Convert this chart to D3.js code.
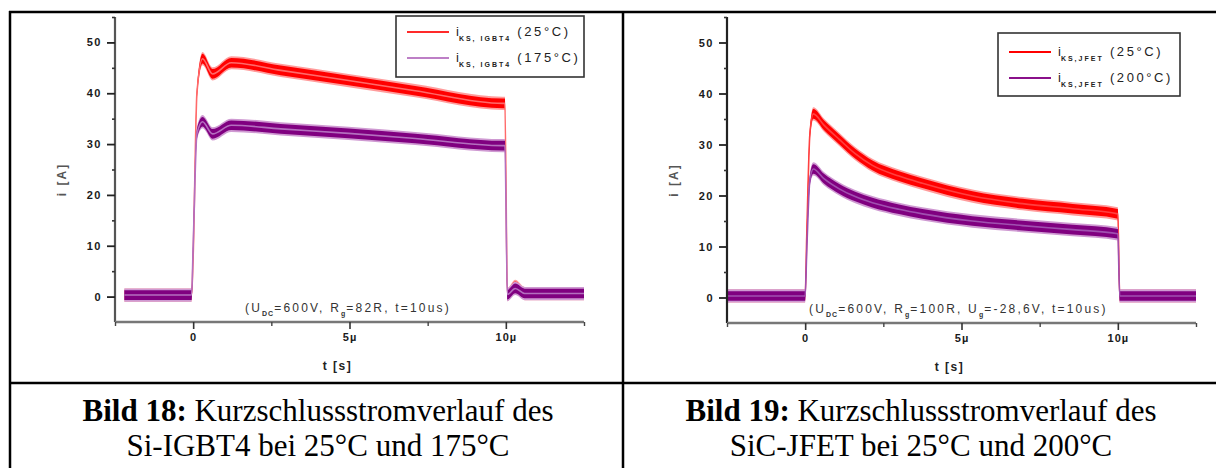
<!DOCTYPE html>
<html>
<head>
<meta charset="utf-8">
<script src="https://cdn.jsdelivr.net/npm/d3@7"></script>
<style>
  body { margin: 0; background: #fff; }
  svg { display: block; font-family: "Liberation Sans", Arial, sans-serif; }
</style>
</head>
<body>
<script>
// Bild 18: Si-IGBT4, current in A over time in µs
const igbtTime = [-2.2, -0.05, 0.0, 0.12, 0.3, 0.62, 1.22, 2.8, 4.97, 7.1, 9.9, 9.97, 10.05, 10.3, 10.6, 12.5];
const igbt25   = [0.3, 0.3, 8, 40, 46.8, 43.8, 46, 44.5, 42.5, 40.5, 38, 38, 0.4, 2.0, 0.6, 0.6];
const igbt175  = [0.3, 0.3, 10, 32, 34.4, 32.0, 33.7, 33, 32.1, 31.1, 29.7, 29.7, 0.4, 1.6, 0.6, 0.6];

// Bild 19: SiC-JFET
const jfetTime = [-2.5, 0.0, 0.05, 0.15, 0.26, 0.6, 1.09, 1.6, 2.15, 3.0, 3.75, 5.35, 6.95, 8.56, 10.0, 10.06, 12.5];
const jfet25   = [0.3, 0.3, 12, 32, 36, 33.8, 31, 28.2, 25.9, 23.8, 22.4, 19.9, 18.4, 17.4, 16.4, 0.3, 0.3];
const jfet200  = [0.3, 0.3, 9, 23, 25.2, 23.3, 21.3, 19.8, 18.6, 17.3, 16.4, 15, 14.1, 13.3, 12.5, 0.3, 0.3];

const yTicks = [0, 10, 20, 30, 40, 50];
const yMinor = [5, 15, 25, 35, 45, 55];
const xTicks = [0, 5, 10];
const xTickLabels = ["0", "5µ", "10µ"];
const xMinor = [-2.5, 2.5, 7.5, 12.5];

const captions = [
    { bold: "Bild 18:", rest: " Kurzschlussstromverlauf des", line2: "Si-IGBT4 bei 25°C und 175°C" },
    { bold: "Bild 19:", rest: " Kurzschlussstromverlauf des", line2: "SiC-JFET bei 25°C und 200°C" }
];

const W = 1216, H = 468;
const svg = d3.select("body").append("svg")
    .attr("width", W)
    .attr("height", H);

function drawPanel(opt) {
    const x = d3.scaleLinear().domain([-2.5, 12.5]).range([opt.left, opt.right]);
    const y = d3.scaleLinear().domain([-5, 55]).range([opt.bottom, opt.top]);
    const g = svg.append("g");

    // traces: light halo band, core band, thin line for the steep edges
    opt.series.forEach(s => {
        const area = hw => d3.area()
            .x((d, i) => x(opt.time[i]))
            .y0(d => y(d - hw))
            .y1(d => y(d + hw))
            .curve(d3.curveMonotoneX);
        g.append("path").attr("d", area(1.3)(s.values)).attr("fill", s.halo);
        g.append("path").attr("d", area(0.95)(s.values)).attr("fill", s.color);
        g.append("path")
            .attr("d", d3.line().x((d, i) => x(opt.time[i])).y(d => y(d)).curve(d3.curveMonotoneX)(s.values))
            .attr("fill", "none")
            .attr("stroke", s.edge)
            .attr("stroke-width", 1.6);
    });

    // y axis
    const yAxis = g.append("g").attr("transform", `translate(${opt.left},0)`)
        .call(d3.axisLeft(y).tickValues(yTicks).tickSize(8).tickFormat(d3.format("d")));
    yAxis.select(".domain").attr("stroke", opt.axisColor).attr("stroke-width", 2.2)
        .attr("d", `M0,${opt.bottom}V${opt.top}`);
    yAxis.selectAll(".tick line").attr("stroke", "#222").attr("stroke-width", 1.8);
    yAxis.selectAll(".tick text")
        .attr("x", -13)
        .style("font-size", "11px").style("font-weight", "bold")
        .style("letter-spacing", "1.5px").attr("fill", "#1a1a1a");
    g.append("g").attr("transform", `translate(${opt.left},0)`)
        .call(d3.axisLeft(y).tickValues(yMinor).tickSize(3).tickFormat(""))
        .call(a => a.select(".domain").remove())
        .selectAll("line").attr("stroke", "#333").attr("stroke-width", 1.6);

    // x axis
    const xAxis = g.append("g").attr("transform", `translate(0,${opt.bottom})`)
        .call(d3.axisBottom(x).tickValues(xTicks).tickSize(7).tickFormat((d, i) => xTickLabels[i]));
    xAxis.select(".domain").attr("stroke", "#777").attr("stroke-width", 2.6)
        .attr("d", `M${opt.left},0H${opt.right}`);
    xAxis.selectAll(".tick line").attr("stroke", "#333").attr("stroke-width", 1.6);
    xAxis.selectAll(".tick text")
        .attr("y", 11)
        .style("font-size", "11px").style("font-weight", "bold")
        .style("letter-spacing", "1px").attr("fill", "#1a1a1a");
    g.append("g").attr("transform", `translate(0,${opt.bottom})`)
        .call(d3.axisBottom(x).tickValues(xMinor).tickSize(4).tickFormat(""))
        .call(a => a.select(".domain").remove())
        .selectAll("line").attr("stroke", "#444").attr("stroke-width", 1.4);

    // axis titles
    g.append("text")
        .attr("x", (opt.left + opt.right) / 2 - 12).attr("y", opt.bottom + 48)
        .attr("text-anchor", "middle")
        .style("font-size", "12px").style("font-weight", "bold").style("letter-spacing", "1.5px")
        .attr("fill", "#222")
        .text("t [s]");
    g.append("text")
        .attr("transform", `translate(${opt.left - 49},${(opt.top + opt.bottom) / 2 + 10}) rotate(-90)`)
        .attr("text-anchor", "middle")
        .style("font-size", "12px").style("font-weight", "bold").style("letter-spacing", "2px")
        .attr("fill", "#555")
        .text("i [A]");

    // legend
    const lg = g.append("g").attr("transform", `translate(${opt.legend[0]},${opt.legend[1]})`);
    lg.append("rect")
        .attr("width", opt.legend[2]).attr("height", opt.legend[3])
        .attr("fill", "#fff").attr("stroke", "#333").attr("stroke-width", 1.6);
    opt.series.forEach((s, i) => {
        const ly = opt.legendRow0 + i * opt.legendGap;
        lg.append("line")
            .attr("x1", 11).attr("x2", 53).attr("y1", ly).attr("y2", ly)
            .attr("stroke", s.legendColor).attr("stroke-width", 2);
        const t = lg.append("text")
            .attr("x", 60).attr("y", ly + 4)
            .style("font-size", "13px").attr("fill", "#222");
        t.append("tspan").text("i");
        t.append("tspan").attr("dy", 5)
            .style("font-size", "7px").style("font-weight", "bold").style("letter-spacing", "2px")
            .text(opt.legendSub);
        t.append("tspan").attr("dy", -5)
            .style("letter-spacing", "2.6px")
            .text(" " + s.label);
    });

    // test condition note, subscripts lowered then the next run raised back
    const note = g.append("text")
        .attr("x", opt.noteX).attr("y", opt.bottom - 10)
        .style("font-size", "12px").style("letter-spacing", "2.2px").attr("fill", "#333");
    let shift = 0;
    opt.note.forEach(part => {
        if (part.sub) {
            note.append("tspan").attr("dy", 4).style("font-size", "7px").style("font-weight", "bold")
                .style("letter-spacing", "1px").text(part.sub);
            shift = -4;
        } else {
            note.append("tspan").attr("dy", shift).text(part.t);
            shift = 0;
        }
    });
}

drawPanel({
    left: 115, right: 584, top: 17, bottom: 322,
    axisColor: "#555",
    time: igbtTime,
    series: [
        { values: igbt25, color: "#ff0000", halo: "#ff9c9c", edge: "#ff6a6a", legendColor: "#ff2a2a", label: "(25°C)" },
        { values: igbt175, color: "#800080", halo: "#cf9ad2", edge: "#b46fbf", legendColor: "#bd7fc6", label: "(175°C)" }
    ],
    legend: [396, 16, 188, 61], legendRow0: 16, legendGap: 26,
    legendSub: "KS, IGBT4",
    noteX: 245,
    note: [{ t: "(U" }, { sub: "DC" }, { t: "=600V, R" }, { sub: "g" }, { t: "=82R, t=10us)" }]
});

drawPanel({
    left: 727, right: 1196, top: 17, bottom: 323,
    axisColor: "#222",
    time: jfetTime,
    series: [
        { values: jfet25, color: "#ff0000", halo: "#ff9c9c", edge: "#ff4040", legendColor: "#ff0000", label: "(25°C)" },
        { values: jfet200, color: "#800080", halo: "#cf9ad2", edge: "#a050b0", legendColor: "#8a108a", label: "(200°C)" }
    ],
    legend: [998, 33, 182, 63], legendRow0: 19, legendGap: 26,
    legendSub: "KS,JFET",
    noteX: 809,
    note: [{ t: "(U" }, { sub: "DC" }, { t: "=600V, R" }, { sub: "g" }, { t: "=100R, U" }, { sub: "g" }, { t: "=-28,6V, t=10us)" }]
});

// table frame
const frame = svg.append("g").attr("stroke", "#000").attr("stroke-width", 2.5);
frame.append("line").attr("x1", 9).attr("x2", W).attr("y1", 12).attr("y2", 12);
frame.append("line").attr("x1", 10).attr("x2", 10).attr("y1", 11).attr("y2", H);
frame.append("line").attr("x1", 623).attr("x2", 623).attr("y1", 11).attr("y2", H);
frame.append("line").attr("x1", 9).attr("x2", W).attr("y1", 383).attr("y2", 383);

// captions
const capCenters = [318, 921];
captions.forEach((c, i) => {
    const t1 = svg.append("text")
        .attr("x", capCenters[i]).attr("y", 421)
        .attr("text-anchor", "middle")
        .style("font-family", "'Liberation Serif', 'Times New Roman', serif")
        .style("font-size", "31px").attr("fill", "#000");
    t1.append("tspan").style("font-weight", "bold").text(c.bold);
    t1.append("tspan").text(c.rest);
    svg.append("text")
        .attr("x", capCenters[i]).attr("y", 456)
        .attr("text-anchor", "middle")
        .style("font-family", "'Liberation Serif', 'Times New Roman', serif")
        .style("font-size", "31px").attr("fill", "#000")
        .text(c.line2);
});
</script>
</body>
</html>
